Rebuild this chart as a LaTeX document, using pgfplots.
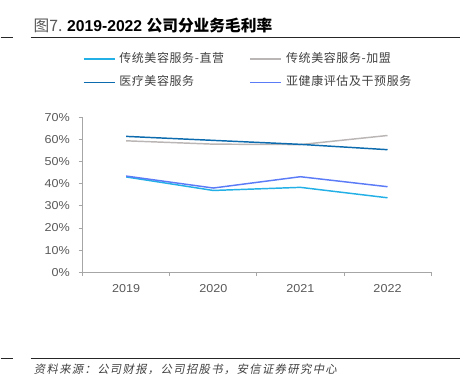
\documentclass[border=0pt]{standalone}
\usepackage{fontspec}
\usepackage{pgfplots}
\pgfplotsset{compat=1.18}
\setmainfont{Liberation Sans}
\newfontfamily\tickfont{Liberation Sans}[FakeStretch=1.1]
\newfontfamily\cjk{Noto Sans CJK SC}
\newfontfamily\cjkleg{Noto Sans CJK SC}[LetterSpace=5]
\newfontfamily\cjkit{Noto Sans CJK SC}[FakeSlant=0.2,LetterSpace=12]
\definecolor{cZhi}{HTML}{22B0E6}
\definecolor{cJia}{HTML}{BBB6B6}
\definecolor{cYi}{HTML}{0C6BAE}
\definecolor{cYa}{HTML}{5B7BF7}
\definecolor{tickc}{HTML}{595959}
\definecolor{axc}{HTML}{A6A6A6}
\definecolor{legc}{HTML}{404040}
\begin{document}
\begin{tikzpicture}
\path (0,0) rectangle (353.25pt,-289.5pt);
% title
\node[anchor=base west, inner sep=0pt] at (24.5pt,-24pt)
  {\fontsize{11.8}{13}\selectfont{\color{tickc}\cjk 图7. }\textbf{2019-2022} {\cjk\bfseries 公司分业务毛利率}};
\draw[line width=1.1pt, black!85] (22.5pt,-28pt) -- (345pt,-28pt);
\draw[line width=1.1pt, black!85] (0pt,-28pt) -- (9.5pt,-28pt);
\draw[line width=1.1pt, black!85] (22.5pt,-269.25pt) -- (345pt,-269.25pt);
\draw[line width=1.1pt, black!85] (0pt,-269.25pt) -- (9.5pt,-269.25pt);
\node[anchor=base west, inner sep=0pt, text=legc] at (24.75pt,-280.5pt)
  {\fontsize{8.5}{9}\selectfont\cjkit 资料来源：公司财报，公司招股书，安信证券研究中心};
\begin{axis}[
  at={(61.5pt,-204.5pt)}, anchor=south west,
  scale only axis, width=261.75pt, height=116.55pt,
  xmin=-0.5, xmax=3.5, ymin=0, ymax=70,
  axis lines=left, axis line style={draw=axc, line width=0.6pt, -},
  xtick={-0.5,0.5,1.5,2.5,3.5},
  x tick label as interval,
  xticklabels={2019,2020,2021,2022},
  ytick={0,10,...,70},
  yticklabel={\pgfmathprintnumber{\tick}\%},
  tick style={draw=axc, line width=0.6pt},
  major tick length=3pt,
  tick align=outside,
  ticklabel style={text=tickc, font=\tickfont\fontsize{8.6}{10}\selectfont},
  /pgf/number format/assume math mode=true,
  yticklabel style={xshift=-3pt},
  xticklabel style={yshift=-3pt},
  legend columns=2,
  legend style={at={(0,1.415)}, anchor=north west, draw=none, fill=none,
    inner sep=0pt, font=\cjkleg\fontsize{9}{10}\selectfont, text=legc,
    nodes={inner sep=0pt, text height=7pt, text depth=2pt},
    /tikz/row sep=8.6pt,
    /tikz/every even column/.append style={column sep=0pt},
    /tikz/every odd column/.append style={column sep=3pt},
    cells={anchor=west, text width=98pt}},
  legend image code/.code={\draw[#1] (0pt,0pt) -- (23.25pt,0pt);},
]
\addplot[cZhi, line width=1.1pt] coordinates {(0,43.0) (1,36.9) (2,38.3) (3,33.6)};
\addlegendentry{传统美容服务-直营}
\addplot[cJia, line width=1.1pt] coordinates {(0,59.3) (1,57.8) (2,57.6) (3,61.7)};
\addlegendentry{传统美容服务-加盟}
\addplot[cYi, line width=1.1pt] coordinates {(0,61.3) (1,59.5) (2,57.7) (3,55.3)};
\addlegendentry{医疗美容服务}
\addplot[cYa, line width=1.1pt] coordinates {(0,43.4) (1,38.0) (2,43.1) (3,38.6)};
\addlegendentry{亚健康评估及干预服务}
\end{axis}
\end{tikzpicture}
\end{document}
